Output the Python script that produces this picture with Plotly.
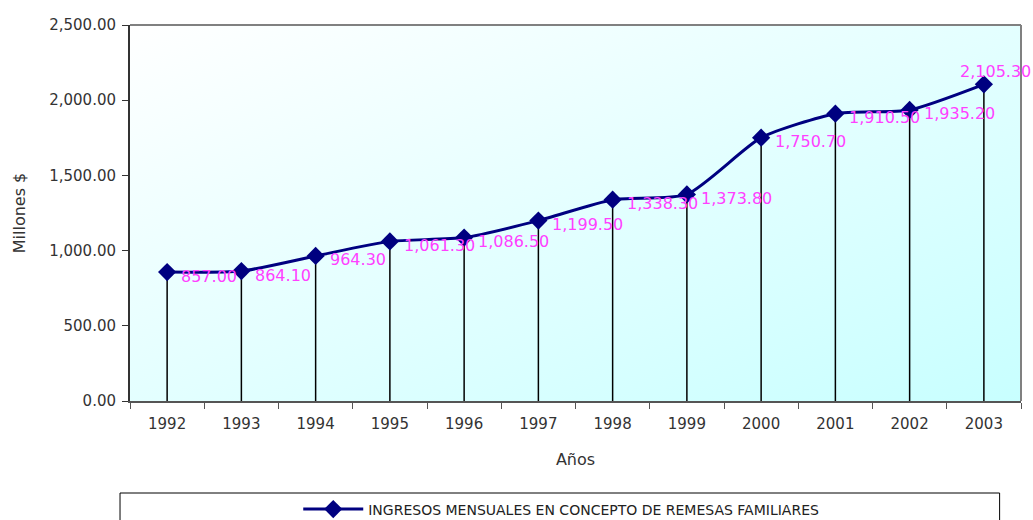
import base64
import plotly.graph_objects as go

years = ["1992", "1993", "1994", "1995", "1996", "1997", "1998", "1999", "2000", "2001", "2002", "2003"]
values = [857.00, 864.10, 964.30, 1061.30, 1086.50, 1199.50, 1338.30, 1373.80, 1750.70, 1910.50, 1935.20, 2105.30]
y_ticks = [0, 500, 1000, 1500, 2000, 2500]
series_name = "INGRESOS MENSUALES EN CONCEPTO DE REMESAS FAMILIARES"

FONT = "DejaVu Sans"
NAVY = "#000080"
MAGENTA = "#FF40FF"
GREY = "#333333"

svg = ('<svg xmlns="http://www.w3.org/2000/svg" width="100" height="100" preserveAspectRatio="none">'
       '<defs><linearGradient id="g" x1="0" y1="0" x2="1" y2="1">'
       '<stop offset="0" stop-color="#FFFFFF"/><stop offset="1" stop-color="#C8FFFF"/>'
       '</linearGradient></defs><rect width="100" height="100" fill="url(#g)"/></svg>')
svg_uri = "data:image/svg+xml;base64," + base64.b64encode(svg.encode()).decode()

fig = go.Figure()

dx, dy = [], []
for x, v in zip(years, values):
    dx += [x, x, None]
    dy += [0, v, None]
fig.add_trace(go.Scatter(x=dx, y=dy, mode="lines", line=dict(color="black", width=1.5),
                         showlegend=False, hoverinfo="skip"))

fig.add_trace(go.Scatter(
    x=years, y=values, mode="lines+markers", name=series_name,
    line=dict(color=NAVY, width=3, shape="spline", smoothing=0.6),
    marker=dict(symbol="diamond", size=14, color=NAVY),
    cliponaxis=False,
))

annotations = []
for i, v in enumerate(values):
    last = i == len(values) - 1
    annotations.append(dict(
        x=i, y=v, xref="x", yref="y", text=f"{v:,.2f}", showarrow=False,
        xanchor="center" if last else "left", yanchor="bottom" if last else "middle",
        xshift=12, yshift=1 if last else -4,
        font=dict(color=MAGENTA, size=16, family=FONT),
    ))

fig.update_layout(
    width=1033, height=520,
    margin=dict(l=130, r=12, t=25, b=119, autoexpand=False),
    paper_bgcolor="white", plot_bgcolor="rgba(0,0,0,0)",
    font=dict(family=FONT, size=15, color=GREY),
    images=[dict(source=svg_uri, xref="paper", yref="paper", x=0, y=1, sizex=1, sizey=1,
                 sizing="stretch", layer="below")],
    annotations=annotations,
    xaxis=dict(type="category", categoryorder="array", categoryarray=years,
               range=[-0.5, len(years) - 0.5], tickangle=0,
               tickson="boundaries", ticks="outside", ticklen=6,
               tickcolor="#555555", showline=True, linecolor="#555555", linewidth=2,
               showgrid=False, automargin=False, ticklabelstandoff=8,
               title=dict(text="Años", font=dict(size=16, color=GREY), standoff=22),
               tickfont=dict(size=15, color=GREY)),
    yaxis=dict(range=[0, 2500], tickvals=y_ticks, tickformat=",.2f", ticks="outside", ticklen=6,
               tickcolor=GREY, showline=True, linecolor=GREY, linewidth=2,
               showgrid=False, zeroline=False, automargin=False, ticklabelstandoff=3,
               title=dict(text="Millones $", font=dict(size=16, color=GREY), standoff=20),
               tickfont=dict(size=15, color=GREY)),
    legend=dict(orientation="h", x=0.484, xanchor="center", y=-0.246, yanchor="top",
                bgcolor="rgba(0,0,0,0)", itemwidth=60, font=dict(size=14, color="#222222")),
    shapes=[
        dict(type="line", xref="paper", yref="paper", x0=0, x1=1, y0=1, y1=1,
             line=dict(color="#808080", width=2)),
        dict(type="line", xref="paper", yref="paper", x0=1, x1=1, y0=0, y1=1,
             line=dict(color="#808080", width=2)),
        dict(type="rect", xref="paper", yref="paper", x0=-0.0112, x1=0.976, y0=-0.2447, y1=-0.35,
             line=dict(color="black", width=1), fillcolor="rgba(0,0,0,0)"),
    ],
)

fig.write_html("out.html", config={"displayModeBar": False},
               post_script="document.body.style.margin='0';")
